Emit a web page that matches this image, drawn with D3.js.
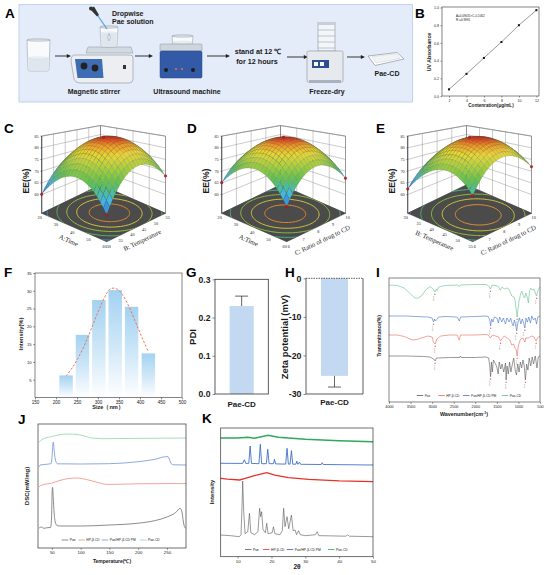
<!DOCTYPE html>
<html>
<head>
<meta charset="utf-8">
<script src="https://cdn.jsdelivr.net/npm/d3@7"></script>
<style>
  body { margin: 0; background: #fff; }
  svg { display: block; }
</style>
</head>
<body>
<svg id="fig" width="550" height="575"></svg>
<script>
// ---------------- data ----------------
// B: calibration curve
const calConc = [2, 4, 6, 8, 10, 12];
const calAbs = [0.075, 0.25, 0.43, 0.61, 0.80, 0.97];
const calXTicks = [2, 4, 6, 8, 10, 12];
const calYTicks = [0, 0.2, 0.4, 0.6, 0.8, 1.0];

// C-E: response surfaces (quadratic model on coded factors: b0, b1, b2, b12, b11, b22)
const timeTicks = [20, 30, 40, 50, 60];
const tempTicks = [30, 35, 40, 45, 50, 55];
const ratioTicks = [6, 7, 8, 9, 10];
const eeTicks = [60, 65, 70, 75, 80, 85];
const eeRange = [52, 85];
const eeLevels = [64, 70, 75, 79, 82.5];
const coefAB = [84.5, 1.525, 2.375, 0.925, -10.7, -10.7];
const coefAC = [84.5, 0.775, 0.175, 1.225, -9.84, -9.84];
const coefBC = [84.5, 3.375, 1.375, 0.575, -8.96, -8.96];

// F: size distribution
const sizeBins = [224, 263, 302, 341, 380, 420];
const sizeIntensity = [6.2, 17.6, 27.4, 30.2, 25.5, 12.4];
const fitSize = [224, 240, 255, 270, 285, 300, 315, 330, 345, 360, 375, 390, 405, 420];
const fitIntensity = [6.0, 8.6, 11.6, 15.3, 19.6, 24.0, 28.0, 30.6, 30.5, 28.6, 25.2, 21.0, 16.8, 12.8];
const sizeTicks = [150, 200, 250, 300, 350, 400, 450, 500];
const intensityTicks = [5, 10, 15, 20, 25, 30, 35];

// G, H
const sampleName = ['Pae-CD'];
const pdiMean = [0.23];
const pdiErr = [0.026];
const pdiTicks = [0, 0.1, 0.2, 0.3];
const zetaMean = [-25.3];
const zetaErr = [2.9];
const zetaTicks = [-30, -20, -10, 0];

// I-K: series
const seriesNames = ['Pae', 'HP-β-CD', 'Pae/HP-β-CD PM', 'Pae-CD'];
const ftirTicks = [4000, 3500, 3000, 2500, 2000, 1500, 1000, 500];
const ftirPae = [[4000,46],[3600,46],[3200,45.5],[3050,45],[2965,43],[2930,41],[2900,44],[2850,44],[2600,44.5],[2365,44.5],[2345,46],[2325,44.5],[2000,44.5],[1750,45],[1690,44],[1665,36],[1645,25.3],[1625,40],[1605,30],[1580,42],[1520,37],[1500,35],[1470,28],[1445,40],[1410,33],[1380,38],[1340,30],[1300,39],[1285,22],[1265,36],[1235,28],[1205,40],[1175,30],[1140,38],[1110,44],[1075,32],[1045,27],[1015,38],[985,30],[955,40],[925,34],[895,42],[865,36],[838,22],[810,38],[780,32],[750,44],[715,36],[680,45],[650,38],[610,46],[570,34],[540,45],[500,46]];
const ftirCD = [[4000,67],[3800,67],[3650,65.5],[3450,62],[3350,62.5],[3250,64],[3100,66],[3000,65],[2970,60],[2930,58],[2890,63],[2800,66],[2600,67],[2420,67],[2370,62],[2340,67],[2000,67],[1750,67.5],[1700,67],[1650,64],[1600,67],[1460,65],[1415,61],[1370,64],[1330,66],[1260,64],[1200,62],[1155,57],[1110,58],[1080,54],[1050,52],[1030,46],[1005,55],[990,58],[950,63],[900,64],[860,61],[850,60],[830,64],[760,64],[700,66],[640,65],[590,61],[560,64],[500,66]];
const ftirPM = [[4000,86],[3600,86],[3400,85.5],[3100,85],[3000,84],[2970,80],[2945,83],[2925,81],[2880,83],[2850,85],[2700,85.5],[2420,85],[2370,81],[2340,85],[2000,85.5],[1750,86],[1700,85.5],[1665,82],[1645,76],[1620,83],[1590,80],[1560,85],[1500,84],[1465,79],[1435,85],[1385,80],[1350,84],[1300,78],[1265,84],[1215,80],[1180,84],[1150,79],[1120,76],[1095,82],[1070,78],[1040,71],[1010,80],[975,84],[945,78],[910,83],[880,79],[850,74],[825,84],[790,80],[760,85],[720,79],[690,86],[650,82],[610,84],[580,78],[550,85],[500,86]];
const ftirInc = [[4000,117],[3800,116.5],[3650,114],[3500,108],[3400,104],[3330,103.7],[3250,106],[3150,112],[3050,115.5],[2975,113],[2935,110],[2900,113],[2880,111.5],[2850,115],[2700,116.5],[2400,117],[2370,115.5],[2340,117],[2000,117.5],[1750,117.5],[1700,116.5],[1650,113],[1610,117],[1480,116],[1420,112],[1380,115],[1330,113],[1250,114],[1200,111],[1155,106],[1100,105],[1080,102],[1050,92],[1030,85],[1010,93],[990,100],[950,108],[920,111],[885,106],[855,104],[830,109],[790,104],[770,99],[745,110],[720,114],[680,112],[640,113],[600,108],[580,106],[560,110],[530,113],[500,115]];
const ftirPeakPae = [2931, 1645, 1285, 838];
const ftirPeakCD = [2930, 1415, 1030, 590];
const ftirPeakPM = [2970, 1645, 1040, 850];
const ftirPeakInc = [2935, 1650, 1030, 580];

const dscTicks = [50, 100, 150, 200, 250];
const dscPae = [[28,20],[32,21],[36,19.7],[42,20.3],[48,20.5],[49.5,30],[50.5,55],[51.3,60.7],[52.5,50],[54,35],[56,26],[59,22.5],[65,22],[100,22],[150,23],[200,24.8],[230,27.5],[250,31],[265,35.5],[273,39.7],[276,36],[278.5,26],[281,20.5],[283,20]];
const dscCD = [[28,61],[30,62.3],[50,65],[70,68.5],[93,70],[110,68.5],[130,65.5],[146,63.6],[170,63.8],[200,64.2],[283,64.5]];
const dscPM = [[28,81],[30,83],[45,84],[49,84.5],[50.5,92],[51.8,103],[52.7,106],[54,98],[56,89],[59.6,84.2],[100,84],[150,84.3],[200,86.3],[230,88.8],[248,91.3],[252,91.3],[254.5,88],[257,84.5],[262,83.2],[283,83]];
const dscInc = [[28,106],[33,108.5],[50,111.5],[78,114],[100,113],[120,110],[140,109.3],[200,109.6],[283,110]];

const xrdTicks = [10, 20, 30, 40, 50];
const xrdPae = [[5,21.7],[8,21],[10.5,20],[11,22],[11.3,50],[11.5,75.7],[11.8,45],[12.2,23],[13,25],[13.5,43.4],[13.9,24],[15,22],[16,25],[16.5,48.4],[16.8,40],[17.1,45],[17.5,27],[18.2,24],[18.6,33.4],[19,23],[20.2,24],[20.6,30],[21,23],[22.5,22],[23.2,26],[23.6,48.4],[24,30],[24.6,40],[25.1,28],[25.9,41.7],[26.4,26],[27,26.7],[27.4,22],[28,26],[28.5,22],[30,21],[33,22],[33.5,25],[34,21],[35,21],[42,20.5],[42.5,22],[43,20.5],[50,20]];
const xrdCD = [[5,78.4],[7,77.5],[10.6,76.7],[12,78],[15,81],[18.6,84],[21,81.5],[25,79],[31,77.4],[40,75.8],[50,75]];
const xrdPM = [[5,93.4],[11.5,93.3],[12,97],[12.4,93.3],[13.3,93.3],[13.7,110.7],[14.1,93.3],[16.3,93],[16.7,112.4],[17.1,93],[18.5,93],[18.9,107.4],[19.3,93],[20.6,93],[20.9,97.4],[21.2,92.8],[24.2,92.6],[24.6,108.4],[25,92.6],[25.5,92.6],[25.9,106],[26.3,92.5],[27.2,92.5],[27.5,95.5],[27.8,92.4],[28.3,94.5],[28.6,92.4],[34.7,92.2],[35,94],[35.3,92.2],[50,91.7]];
const xrdInc = [[5,118.7],[10,118.7],[13,119.5],[15,118.5],[19,121.5],[22,119.5],[30,117.5],[40,116],[50,115]];

// ---------------- helpers ----------------
const SANS = '"Liberation Sans", Arial, Helvetica, sans-serif';
const SERIF = '"Liberation Serif", "Times New Roman", serif';
const svg = d3.select('#fig');
const defs = svg.append('defs');
const plain = d => String(d);

function txt(g, x, y, s, fs, opt) {
  opt = opt || {};
  const t = g.append('text').attr('x', x).attr('y', y).text(s)
    .attr('font-size', fs).attr('font-family', opt.family || SANS)
    .attr('font-weight', opt.weight || 'normal')
    .attr('text-anchor', opt.anchor || 'start')
    .attr('fill', opt.fill || '#1a1a1a');
  if (opt.rotate !== undefined) t.attr('transform', `rotate(${opt.rotate},${x},${y})`);
  if (opt.dy) t.attr('dy', opt.dy);
  return t;
}

function styleAxis(sel, fs, weight) {
  sel.attr('font-size', fs).attr('font-family', SANS).attr('font-weight', weight || 'normal');
  sel.select('.domain').remove();
  sel.selectAll('line').attr('stroke', '#222').attr('stroke-width', 0.5);
  sel.selectAll('text').attr('fill', '#1a1a1a');
}

function frame(g, x0, y0, x1, y1, sw) {
  g.append('rect').attr('x', x0).attr('y', y0).attr('width', x1 - x0).attr('height', y1 - y0)
    .attr('fill', 'none').attr('stroke', '#333').attr('stroke-width', sw || 0.7);
}

function legend(g, xs, y, colors, fs) {
  seriesNames.forEach((n, i) => {
    g.append('line').attr('x1', xs[i]).attr('x2', xs[i] + 6.5).attr('y1', y).attr('y2', y)
      .attr('stroke', colors[i]).attr('stroke-width', 0.8);
    txt(g, xs[i] + 8, y + fs * 0.35, n, fs);
  });
}

// panel letters
[['A', 5, 18], ['B', 415, 18], ['C', 4, 133], ['D', 187, 133], ['E', 376, 133],
 ['F', 4, 277], ['G', 186, 277], ['H', 285, 277], ['I', 376, 277], ['J', 18, 424], ['K', 202, 423]]
  .forEach(d => txt(svg, d[1], d[2], d[0], 13.5, { weight: 'bold', fill: '#000' }));

// ---------------- A : preparation scheme ----------------
const gA = svg.append('g');
gA.append('rect').attr('x', 19).attr('y', 4.5).attr('width', 393.5).attr('height', 97.5)
  .attr('fill', '#e3ecf8').attr('stroke', '#b7cbe5').attr('stroke-width', 0.8);

function beaker(x, y, w, h, lvl) {
  const b = gA.append('g').attr('transform', `translate(${x},${y})`);
  const ly = h * (1 - lvl);
  b.append('path').attr('d', `M0,0 L${w},0 L${w - 1},${h - 2} Q${w - 1},${h} ${w - 3},${h} L3,${h} Q1,${h} 1,${h - 2} Z`)
    .attr('fill', '#f8fafc').attr('stroke', '#9aa4ae').attr('stroke-width', 0.6);
  b.append('path').attr('d', `M1.5,${ly} L${w - 1.5},${ly} L${w - 1.3},${h - 2} Q${w - 1.3},${h - 0.4} ${w - 3},${h - 0.4} L3,${h - 0.4} Q1.3,${h - 0.4} 1.3,${h - 2} Z`)
    .attr('fill', '#dfe6ee');
  b.append('ellipse').attr('cx', w / 2).attr('cy', ly).attr('rx', w / 2 - 1.4).attr('ry', 1.1)
    .attr('fill', '#eef2f6').attr('stroke', '#c3ccd5').attr('stroke-width', 0.3);
  b.append('ellipse').attr('cx', w / 2).attr('cy', 0).attr('rx', w / 2).attr('ry', 1.3)
    .attr('fill', 'none').attr('stroke', '#9aa4ae').attr('stroke-width', 0.5);
  return b;
}

function arrow(x0, x1, y) {
  gA.append('line').attr('x1', x0).attr('x2', x1 - 3).attr('y1', y).attr('y2', y)
    .attr('stroke', '#222').attr('stroke-width', 0.9);
  gA.append('path').attr('d', `M${x1},${y} L${x1 - 4.2},${y - 1.9} L${x1 - 4.2},${y + 1.9} Z`).attr('fill', '#222');
}

beaker(27, 40, 23, 31, 0.42);
arrow(55, 71, 56);

// magnetic stirrer
gA.append('path').attr('d', 'M75,55 L130,55 Q133,55 133,58 L133,79 Q133,83 129,83 L80,83 Q75,83 74,79 L71,61 Q71,55 75,55 Z')
  .attr('fill', '#eceef1').attr('stroke', '#8b939c').attr('stroke-width', 0.6);
gA.append('path').attr('d', 'M75,59 L102,59 L103.5,78 L77.5,78 Z').attr('fill', '#3f6db3');
gA.append('circle').attr('cx', 84).attr('cy', 66).attr('r', 3.4).attr('fill', '#222');
gA.append('circle').attr('cx', 95).attr('cy', 68).attr('r', 3.4).attr('fill', '#222');
gA.append('rect').attr('x', 123).attr('y', 65).attr('width', 3).attr('height', 4).attr('fill', '#333');
gA.append('path').attr('d', 'M88,47 L131,47 L133,53 L86,53 Z').attr('fill', '#d4dae1').attr('stroke', '#8b939c').attr('stroke-width', 0.5);
const sb = beaker(100, 27, 18, 20, 0.7);
sb.append('path').attr('d', 'M9,6 Q6,11 9,14 Q12,11 9,6').attr('fill', 'none').attr('stroke', '#9aa4ae').attr('stroke-width', 0.5);
gA.append('line').attr('x1', 98).attr('y1', 16).attr('x2', 107).attr('y2', 29).attr('stroke', '#5aa8d8').attr('stroke-width', 1.3);
gA.append('path').attr('d', 'M90,9 L94,6.5 L99,15 L97,16.5 Z').attr('fill', '#333');
gA.append('circle').attr('cx', 91).attr('cy', 8.5).attr('r', 2).attr('fill', '#333');
txt(gA, 112, 16, 'Dropwise', 7, { weight: 'bold' });
txt(gA, 112, 24, 'Pae solution', 7, { weight: 'bold' });
txt(gA, 94, 94, 'Magnetic stirrer', 7, { weight: 'bold', anchor: 'middle' });
arrow(135, 153, 56);

// ultrasound bath
beaker(172, 36, 21, 14, 0.55);
gA.append('rect').attr('x', 160).attr('y', 44).attr('width', 42).attr('height', 7).attr('rx', 1)
  .attr('fill', '#cfd5dc').attr('stroke', '#8b939c').attr('stroke-width', 0.5);
gA.append('rect').attr('x', 160).attr('y', 51).attr('width', 42).attr('height', 27).attr('rx', 1.5)
  .attr('fill', '#335aa6').attr('stroke', '#2a4a8a').attr('stroke-width', 0.5);
gA.append('circle').attr('cx', 166).attr('cy', 70).attr('r', 2).attr('fill', '#1d1d1d');
gA.append('circle').attr('cx', 176).attr('cy', 69).attr('r', 1.1).attr('fill', '#e2743a');
gA.append('circle').attr('cx', 182).attr('cy', 69).attr('r', 1.1).attr('fill', '#e2743a');
gA.append('circle').attr('cx', 193).attr('cy', 70).attr('r', 2).attr('fill', '#1d1d1d');
txt(gA, 187, 94, 'Ultrasound machine', 7, { weight: 'bold', anchor: 'middle' });
arrow(207, 230, 56);

txt(gA, 258, 54, 'stand at 12 ℃', 7.2, { weight: 'bold', anchor: 'middle' });
txt(gA, 257, 64, 'for 12 hours', 7.2, { weight: 'bold', anchor: 'middle' });
arrow(287, 308, 57);

// freeze dryer
gA.append('rect').attr('x', 318).attr('y', 24).attr('width', 17).attr('height', 27)
  .attr('fill', '#f3f6f9').attr('stroke', '#8b939c').attr('stroke-width', 0.6);
[30, 36, 42, 48].forEach(y => gA.append('line').attr('x1', 318).attr('x2', 335).attr('y1', y).attr('y2', y)
  .attr('stroke', '#9aa4ae').attr('stroke-width', 0.6));
gA.append('rect').attr('x', 317).attr('y', 22).attr('width', 19).attr('height', 3).attr('fill', '#c7ced6');
gA.append('rect').attr('x', 307).attr('y', 51).attr('width', 36).attr('height', 31).attr('rx', 1.5)
  .attr('fill', '#e6e9ee').attr('stroke', '#8b939c').attr('stroke-width', 0.6);
gA.append('rect').attr('x', 312).attr('y', 60).attr('width', 17).attr('height', 8).attr('fill', '#2c4f90');
gA.append('rect').attr('x', 314).attr('y', 62).attr('width', 4).attr('height', 4).attr('fill', '#fff');
gA.append('rect').attr('x', 320).attr('y', 62).attr('width', 4).attr('height', 4).attr('fill', '#fff');
gA.append('rect').attr('x', 309).attr('y', 80).attr('width', 32).attr('height', 3).attr('fill', '#aab2bb');
txt(gA, 327, 94, 'Freeze-dry', 7, { weight: 'bold', anchor: 'middle' });
arrow(347, 365, 57);

// product dish
gA.append('path').attr('d', 'M368,56 L397,52.5 L404,59 L375,65.5 Z').attr('fill', '#fff').attr('stroke', '#8b939c').attr('stroke-width', 0.7);
gA.append('path').attr('d', 'M372,56.5 L396,53.8 L400,58.4 L376,63 Z').attr('fill', '#f1f3f5').attr('stroke', '#c1c8cf').attr('stroke-width', 0.4);
txt(gA, 387, 76, 'Pae-CD', 7, { weight: 'bold', anchor: 'middle' });

// ---------------- B : calibration ----------------
const gB = svg.append('g');
const bx = d3.scaleLinear().domain([1.2, 12.3]).range([442, 539]);
const by = d3.scaleLinear().domain([0, 1]).range([96, 7.5]);
gB.append('g').attr('transform', 'translate(0,96)')
  .call(d3.axisBottom(bx).tickValues(calXTicks).tickFormat(plain).tickSize(1.5).tickPadding(1.5)).call(styleAxis, 3.6);
gB.append('g').attr('transform', 'translate(442,0)')
  .call(d3.axisLeft(by).tickValues(calYTicks).tickFormat(d3.format('.1f')).tickSize(1.5).tickPadding(1.5)).call(styleAxis, 3.6);
frame(gB, 442, 7, 539, 96, 0.6);
gB.append('path').datum(calConc.map((c, i) => [c, calAbs[i]]))
  .attr('d', d3.line().x(d => bx(d[0])).y(d => by(d[1])))
  .attr('fill', 'none').attr('stroke', '#333').attr('stroke-width', 0.5);
gB.selectAll('rect.pt').data(calConc).enter().append('rect').attr('class', 'pt')
  .attr('x', (d) => bx(d) - 1).attr('y', (d, i) => by(calAbs[i]) - 1).attr('width', 2).attr('height', 2).attr('fill', '#111');
txt(gB, 456, 16.5, 'A=0.09031×C-0.1062', 3, {});
txt(gB, 456, 21, 'R²=0.9995', 3, {});
txt(gB, 431, 52, 'UV Absorbance', 5.2, { weight: 'bold', anchor: 'middle', rotate: -90 });
txt(gB, 491, 107, 'Contenration(μg/mL)', 4.6, { weight: 'bold', anchor: 'middle' });

// ---------------- C-E : response surfaces ----------------
const rsmColor = d3.scaleLinear().domain([0, 0.22, 0.42, 0.62, 0.78, 0.9, 1])
  .range(['#2a62d4', '#44b8e0', '#5dbf50', '#aacf3c', '#ead634', '#f0982a', '#db2a1e']);

function drawRSM(dx, coef, t1, t2, name1, name2) {
  const g = svg.append('g').attr('transform', `translate(${dx},0)`);
  const L = [41.7, 213.3], F = [106.7, 241.7], R = [165.5, 213.3];
  const c0 = [(L[0] + R[0]) / 2, (L[1] + R[1]) / 2];
  const e1 = [(F[0] - L[0]) / 2, (F[1] - L[1]) / 2];
  const e2 = [(R[0] - F[0]) / 2, (R[1] - F[1]) / 2];
  const zs = d3.scaleLinear().domain(eeRange).range([0, 1]);
  const s1 = d3.scaleLinear().domain(d3.extent(t1)).range([-1, 1]);
  const s2 = d3.scaleLinear().domain(d3.extent(t2)).range([-1, 1]);
  const zf = eeRange[0], zt = eeRange[1];
  const proj = (x1, x2, z) => {
    const k = 59.4 + 35.6 * (x1 - x2 + 2) / 4;
    return [c0[0] + x1 * e1[0] + x2 * e2[0], c0[1] + x1 * e1[1] + x2 * e2[1] - zs(z) * k];
  };
  const model = (a, b) => coef[0] + coef[1] * a + coef[2] * b + coef[3] * a * b + coef[4] * a * a + coef[5] * b * b;
  const poly = pts => 'M' + pts.map(p => p[0].toFixed(2) + ',' + p[1].toFixed(2)).join('L') + 'Z';
  const seg = (p, q) => g.append('line').attr('x1', p[0]).attr('y1', p[1]).attr('x2', q[0]).attr('y2', q[1]);

  // back walls
  g.append('path').attr('d', poly([proj(-1, -1, zf), proj(-1, 1, zf), proj(-1, 1, zt), proj(-1, -1, zt)]))
    .attr('fill', '#fff').attr('stroke', '#444').attr('stroke-width', 0.5);
  g.append('path').attr('d', poly([proj(-1, 1, zf), proj(1, 1, zf), proj(1, 1, zt), proj(-1, 1, zt)]))
    .attr('fill', '#fff').attr('stroke', '#444').attr('stroke-width', 0.5);
  t2.forEach(v => seg(proj(-1, s2(v), zf), proj(-1, s2(v), zt)).attr('stroke', '#8a8a8a').attr('stroke-width', 0.45));
  t1.forEach(v => seg(proj(s1(v), 1, zf), proj(s1(v), 1, zt)).attr('stroke', '#8a8a8a').attr('stroke-width', 0.45));
  eeTicks.forEach(z => {
    seg(proj(-1, -1, z), proj(-1, 1, z)).attr('stroke', '#8a8a8a').attr('stroke-width', 0.45);
    seg(proj(-1, 1, z), proj(1, 1, z)).attr('stroke', '#8a8a8a').attr('stroke-width', 0.45);
    const p = proj(-1, -1, z);
    seg([p[0] - 1.5, p[1]], p).attr('stroke', '#333').attr('stroke-width', 0.4);
    txt(g, p[0] - 3, p[1] + 1.4, z, 4.2, { family: SERIF, anchor: 'end' });
  });
  seg(proj(-1, -1, zf), proj(-1, -1, zt)).attr('stroke', '#222').attr('stroke-width', 0.6);

  // floor with contours
  const floorPts = [proj(-1, -1, zf), proj(1, -1, zf), proj(1, 1, zf), proj(-1, 1, zf)];
  g.append('path').attr('d', poly(floorPts)).attr('fill', '#4b4b4b').attr('stroke', '#2e2e2e').attr('stroke-width', 0.5);
  const cid = 'floorclip' + dx;
  defs.append('clipPath').attr('id', cid).append('path').attr('d', poly(floorPts));
  const n = 56, lo = -1.12, st = 2.24 / (n - 1);
  const vals = new Array(n * n);
  for (let j = 0; j < n; j++) for (let i = 0; i < n; i++) vals[j * n + i] = model(lo + i * st, lo + j * st);
  const zmin = d3.min(vals.filter((v, idx) => Math.abs(lo + (idx % n) * st) <= 1 && Math.abs(lo + Math.floor(idx / n) * st) <= 1));
  const zmax = d3.max(vals);
  const cnorm = d3.scaleLinear().domain([zmin, zmax]).range([0, 1]).clamp(true);
  const toFloor = c => proj(lo + (c[0] - 0.5) * st, lo + (c[1] - 0.5) * st, zf);
  const conts = d3.contours().size([n, n]).thresholds(eeLevels)(vals);
  const cg = g.append('g').attr('clip-path', `url(#${cid})`);
  conts.forEach(ct => {
    const d = ct.coordinates.map(pg => pg.map(ring => poly(ring.map(toFloor))).join('')).join('');
    cg.append('path').attr('d', d).attr('fill', 'none').attr('stroke', rsmColor(cnorm(ct.value))).attr('stroke-width', 0.9);
  });

  // surface mesh, painted back to front
  const N = 20, quads = [];
  for (let i = 0; i < N; i++) {
    for (let j = 0; j < N; j++) {
      const a0 = -1 + 2 * i / N, a1 = -1 + 2 * (i + 1) / N, b0 = -1 + 2 * j / N, b1 = -1 + 2 * (j + 1) / N;
      const zz = [model(a0, b0), model(a1, b0), model(a1, b1), model(a0, b1)];
      quads.push({
        pts: [proj(a0, b0, zz[0]), proj(a1, b0, zz[1]), proj(a1, b1, zz[2]), proj(a0, b1, zz[3])],
        z: d3.mean(zz), near: (a0 + a1 - b0 - b1) / 2
      });
    }
  }
  quads.sort((p, q) => p.near - q.near);
  g.append('g').selectAll('path').data(quads).enter().append('path')
    .attr('d', d => poly(d.pts)).attr('fill', d => rsmColor(cnorm(d.z)))
    .attr('stroke', '#3a3a3a').attr('stroke-width', 0.2).attr('stroke-opacity', 0.7);

  // design points
  [[-1, -1], [1, -1], [1, 1], [0, 0]].forEach(c => {
    const p = proj(c[0], c[1], model(c[0], c[1]));
    g.append('circle').attr('cx', p[0]).attr('cy', p[1]).attr('r', 1.3).attr('fill', '#c81e1e').attr('stroke', '#6a0b0b').attr('stroke-width', 0.3);
  });

  // factor axes along the floor edges
  const unit = v => { const l = Math.hypot(v[0], v[1]); return [v[0] / l, v[1] / l]; };
  let n1 = unit([-e1[1], e1[0]]); if (n1[0] * -e2[0] + n1[1] * -e2[1] < 0) n1 = [-n1[0], -n1[1]];
  let n2 = unit([-e2[1], e2[0]]); if (n2[0] * e1[0] + n2[1] * e1[1] < 0) n2 = [-n2[0], -n2[1]];
  t1.forEach(v => { const p = proj(s1(v), -1, zf); txt(g, p[0] + n1[0] * 5, p[1] + n1[1] * 5, v, 4.2, { family: SERIF, anchor: 'middle', dy: '0.35em' }); });
  t2.forEach(v => { const p = proj(1, s2(v), zf); txt(g, p[0] + n2[0] * 5, p[1] + n2[1] * 5, v, 4.2, { family: SERIF, anchor: 'middle', dy: '0.35em' }); });
  const m1 = proj(0, -1, zf), m2 = proj(1, 0, zf);
  txt(g, m1[0] + n1[0] * 14, m1[1] + n1[1] * 14, name1, 6.6, { family: SERIF, anchor: 'middle', dy: '0.35em', rotate: Math.atan2(e1[1], e1[0]) * 180 / Math.PI });
  txt(g, m2[0] + n2[0] * 14, m2[1] + n2[1] * 14, name2, 6.6, { family: SERIF, anchor: 'middle', dy: '0.35em', rotate: Math.atan2(e2[1], e2[0]) * 180 / Math.PI });
  txt(g, 28.5, 181, 'EE(%)', 8.6, { weight: 'bold', anchor: 'middle', rotate: -90 });
}

drawRSM(0, coefAB, timeTicks, tempTicks, 'A:Time', 'B: Temperature');
drawRSM(180, coefAC, timeTicks, ratioTicks, 'A:Time', 'C: Ratio of drug to CD');
drawRSM(366, coefBC, tempTicks, ratioTicks, 'B: Temperature', 'C: Ratio of drug to CD');

// ---------------- F : size distribution ----------------
const gF = svg.append('g');
const fx = d3.scaleLinear().domain([150, 500]).range([35, 182]);
const fy = d3.scaleLinear().domain([0, 35]).range([397.5, 273]);
const grad = defs.append('linearGradient').attr('id', 'barfade').attr('x1', 0).attr('y1', 0).attr('x2', 0).attr('y2', 1);
grad.append('stop').attr('offset', 0).attr('stop-color', '#a3d2f1');
grad.append('stop').attr('offset', 0.55).attr('stop-color', '#d2e9f8');
grad.append('stop').attr('offset', 1).attr('stop-color', '#ffffff');
gF.selectAll('rect.bar').data(sizeBins).enter().append('rect').attr('class', 'bar')
  .attr('x', d => fx(d - 16)).attr('width', d => fx(d + 16) - fx(d - 16))
  .attr('y', (d, i) => fy(sizeIntensity[i])).attr('height', (d, i) => fy(0) - fy(sizeIntensity[i]))
  .attr('fill', 'url(#barfade)');
gF.append('path').datum(fitSize.map((s, i) => [s, fitIntensity[i]]))
  .attr('d', d3.line().x(d => fx(d[0])).y(d => fy(d[1])).curve(d3.curveCatmullRom))
  .attr('fill', 'none').attr('stroke', '#ee6a4e').attr('stroke-width', 0.9).attr('stroke-dasharray', '2.4,1.6');
gF.append('g').attr('transform', 'translate(0,397.5)')
  .call(d3.axisBottom(fx).tickValues(sizeTicks).tickFormat(plain).tickSize(1.8).tickPadding(1.5)).call(styleAxis, 4.6);
gF.append('g').attr('transform', 'translate(35,0)')
  .call(d3.axisLeft(fy).tickValues(intensityTicks).tickFormat(plain).tickSize(1.8).tickPadding(1.5)).call(styleAxis, 4.2);
frame(gF, 35, 273, 182, 397.5, 0.6);
txt(gF, 23, 334, 'Intensity(%)', 5.8, { weight: 'bold', anchor: 'middle', rotate: -90 });
txt(gF, 108, 409, 'Size（nm）', 5.6, { weight: 'bold', anchor: 'middle' });

// ---------------- G : PDI ----------------
const gG = svg.append('g');
const gxS = d3.scaleBand().domain(sampleName).range([215, 268.3]).padding(0.377);
const gyS = d3.scaleLinear().domain([0, 0.3]).range([394, 279.3]);
gG.selectAll('rect.bar').data(sampleName).enter().append('rect')
  .attr('x', d => gxS(d)).attr('width', gxS.bandwidth())
  .attr('y', (d, i) => gyS(pdiMean[i])).attr('height', (d, i) => gyS(0) - gyS(pdiMean[i])).attr('fill', '#c3d9f1');
sampleName.forEach((d, i) => {
  const cx = gxS(d) + gxS.bandwidth() / 2;
  gG.append('line').attr('x1', cx).attr('x2', cx).attr('y1', gyS(pdiMean[i])).attr('y2', gyS(pdiMean[i] + pdiErr[i])).attr('stroke', '#222').attr('stroke-width', 0.7);
  gG.append('line').attr('x1', cx - 6.5).attr('x2', cx + 6.5).attr('y1', gyS(pdiMean[i] + pdiErr[i])).attr('y2', gyS(pdiMean[i] + pdiErr[i])).attr('stroke', '#222').attr('stroke-width', 0.7);
  txt(gG, cx, 406.5, d, 8, { weight: 'bold', anchor: 'middle' });
});
gG.append('g').attr('transform', 'translate(215,0)')
  .call(d3.axisLeft(gyS).tickValues(pdiTicks).tickFormat(d3.format('.1f')).tickSize(2.5).tickPadding(2)).call(styleAxis, 8.6, 'bold');
frame(gG, 215, 279.3, 268.3, 394, 0.8);
txt(gG, 196, 337, 'PDI', 9.6, { weight: 'bold', anchor: 'middle', rotate: -90 });

// ---------------- H : zeta potential ----------------
const gH = svg.append('g');
const hxS = d3.scaleBand().domain(sampleName).range([306, 363]).padding(0.357);
const hyS = d3.scaleLinear().domain([-30, 0]).range([394, 278.3]);
gH.selectAll('rect.bar').data(sampleName).enter().append('rect')
  .attr('x', d => hxS(d)).attr('width', hxS.bandwidth())
  .attr('y', hyS(0)).attr('height', (d, i) => hyS(zetaMean[i]) - hyS(0)).attr('fill', '#c3d9f1');
sampleName.forEach((d, i) => {
  const cx = hxS(d) + hxS.bandwidth() / 2;
  gH.append('line').attr('x1', cx).attr('x2', cx).attr('y1', hyS(zetaMean[i])).attr('y2', hyS(zetaMean[i] - zetaErr[i])).attr('stroke', '#222').attr('stroke-width', 0.7);
  gH.append('line').attr('x1', cx - 6.5).attr('x2', cx + 6.5).attr('y1', hyS(zetaMean[i] - zetaErr[i])).attr('y2', hyS(zetaMean[i] - zetaErr[i])).attr('stroke', '#222').attr('stroke-width', 0.7);
  txt(gH, cx, 405, d, 8, { weight: 'bold', anchor: 'middle' });
});
gH.append('g').attr('transform', 'translate(306,0)')
  .call(d3.axisLeft(hyS).tickValues(zetaTicks).tickFormat(plain).tickSize(2.5).tickPadding(2)).call(styleAxis, 8.8, 'bold');
gH.append('path').attr('d', `M306,${hyS(0)} L306,394 L363,394 L363,${hyS(0)}`).attr('fill', 'none').attr('stroke', '#333').attr('stroke-width', 0.8);
gH.append('line').attr('x1', 306).attr('x2', 363).attr('y1', hyS(0)).attr('y2', hyS(0)).attr('stroke', '#333').attr('stroke-width', 0.8).attr('stroke-dasharray', '1.5,1');
txt(gH, 288, 337, 'Zeta potential (mV)', 9.4, { weight: 'bold', anchor: 'middle', rotate: -90 });

// ---------------- I : FTIR ----------------
const gI = svg.append('g');
const ix = d3.scaleLinear().domain([4000, 500]).range([389, 540]);
const iy = d3.scaleLinear().domain([0, 124]).range([402, 278]);
const ftirColors = ['#555', '#e8675b', '#4472c4', '#62c088'];
const ftirLine = d3.line().x(d => ix(d[0])).y(d => iy(d[1]));
[ftirPae, ftirCD, ftirPM, ftirInc].forEach((s, k) => {
  gI.append('path').datum(s).attr('d', ftirLine).attr('fill', 'none').attr('stroke', ftirColors[k]).attr('stroke-width', 0.6);
});
[[ftirPae, ftirPeakPae], [ftirCD, ftirPeakCD], [ftirPM, ftirPeakPM], [ftirInc, ftirPeakInc]].forEach(pair => {
  pair[1].forEach(w => {
    const v = d3.least(pair[0], d => Math.abs(d[0] - w))[1];
    const x = ix(w), y = iy(v) + 2.5;
    gI.append('path').attr('d', `M${x},${y - 1.2} l-0.8,1.4 l1.6,0 Z`).attr('fill', '#e23a2a');
    txt(gI, x - 0.5, y + 1.5, w, 2.4, { fill: '#777', anchor: 'end', rotate: -90 });
  });
});
gI.append('g').attr('transform', 'translate(0,402)')
  .call(d3.axisBottom(ix).tickValues(ftirTicks).tickFormat(plain).tickSize(1.8).tickPadding(1.5)).call(styleAxis, 3.8);
frame(gI, 389, 278, 540, 402, 0.6);
legend(gI, [416.7, 438.3, 463, 501.7], 395.5, ftirColors, 3.2);
txt(gI, 381, 336, 'Transmittance(%)', 5, { weight: 'bold', anchor: 'middle', rotate: -90 });
const wl = txt(gI, 464, 416, 'Wavenumber(cm', 5.4, { weight: 'bold', anchor: 'middle' });
wl.append('tspan').attr('dy', -2).attr('font-size', 3.6).text('-1');
wl.append('tspan').attr('dy', 2).text(')');

// ---------------- J : DSC ----------------
const gJ = svg.append('g');
const jx = d3.scaleLinear().domain([26, 283]).range([38, 186]);
const jy = d3.scaleLinear().domain([0, 124]).range([548, 424]);
const dscColors = ['#6f6f6f', '#f08a84', '#7093d8', '#8fd4a8'];
const dscLine = d3.line().x(d => jx(d[0])).y(d => jy(d[1])).curve(d3.curveMonotoneX);
[dscPae, dscCD, dscPM, dscInc].forEach((s, k) => {
  gJ.append('path').datum(s).attr('d', dscLine).attr('fill', 'none').attr('stroke', dscColors[k]).attr('stroke-width', 0.8);
});
gJ.append('g').attr('transform', 'translate(0,548)')
  .call(d3.axisBottom(jx).tickValues(dscTicks).tickFormat(plain).tickSize(1.8).tickPadding(1.5)).call(styleAxis, 4.4);
frame(gJ, 38, 424, 186, 548, 0.7);
legend(gJ, [61.7, 78.3, 101.7, 140], 540, dscColors, 3.3);
txt(gJ, 29, 486, 'DSC(mW/mg)', 6, { weight: 'bold', anchor: 'middle', rotate: -90 });
txt(gJ, 112, 563, 'Temperature(℃)', 5, { weight: 'bold', anchor: 'middle' });

// ---------------- K : XRD ----------------
const gK = svg.append('g');
const kx = d3.scaleLinear().domain([5, 50]).range([220.7, 373]);
const ky = d3.scaleLinear().domain([0, 128.7]).range([556.7, 428]);
const xrdColors = ['#555', '#e8302a', '#2b5fc0', '#2ea85a'];
const xrdWidths = [0.6, 1.3, 0.8, 1.4];
const xrdLine = d3.line().x(d => kx(d[0])).y(d => ky(d[1]));
[xrdPae, xrdCD, xrdPM, xrdInc].forEach((s, k) => {
  gK.append('path').datum(s).attr('d', xrdLine).attr('fill', 'none').attr('stroke', xrdColors[k]).attr('stroke-width', xrdWidths[k]);
});
gK.append('g').attr('transform', 'translate(0,556.7)')
  .call(d3.axisBottom(kx).tickValues(xrdTicks).tickFormat(plain).tickSize(1.8).tickPadding(1.5)).call(styleAxis, 4.4);
frame(gK, 220.7, 428, 373, 556.7, 0.7);
legend(gK, [245, 263, 286.7, 328], 549.5, xrdColors, 3.3);
txt(gK, 213.5, 492, 'Intensity', 6, { weight: 'bold', anchor: 'middle', rotate: -90 });
txt(gK, 297, 569, '2θ', 6.5, { weight: 'bold', anchor: 'middle' });
</script>
</body>
</html>
